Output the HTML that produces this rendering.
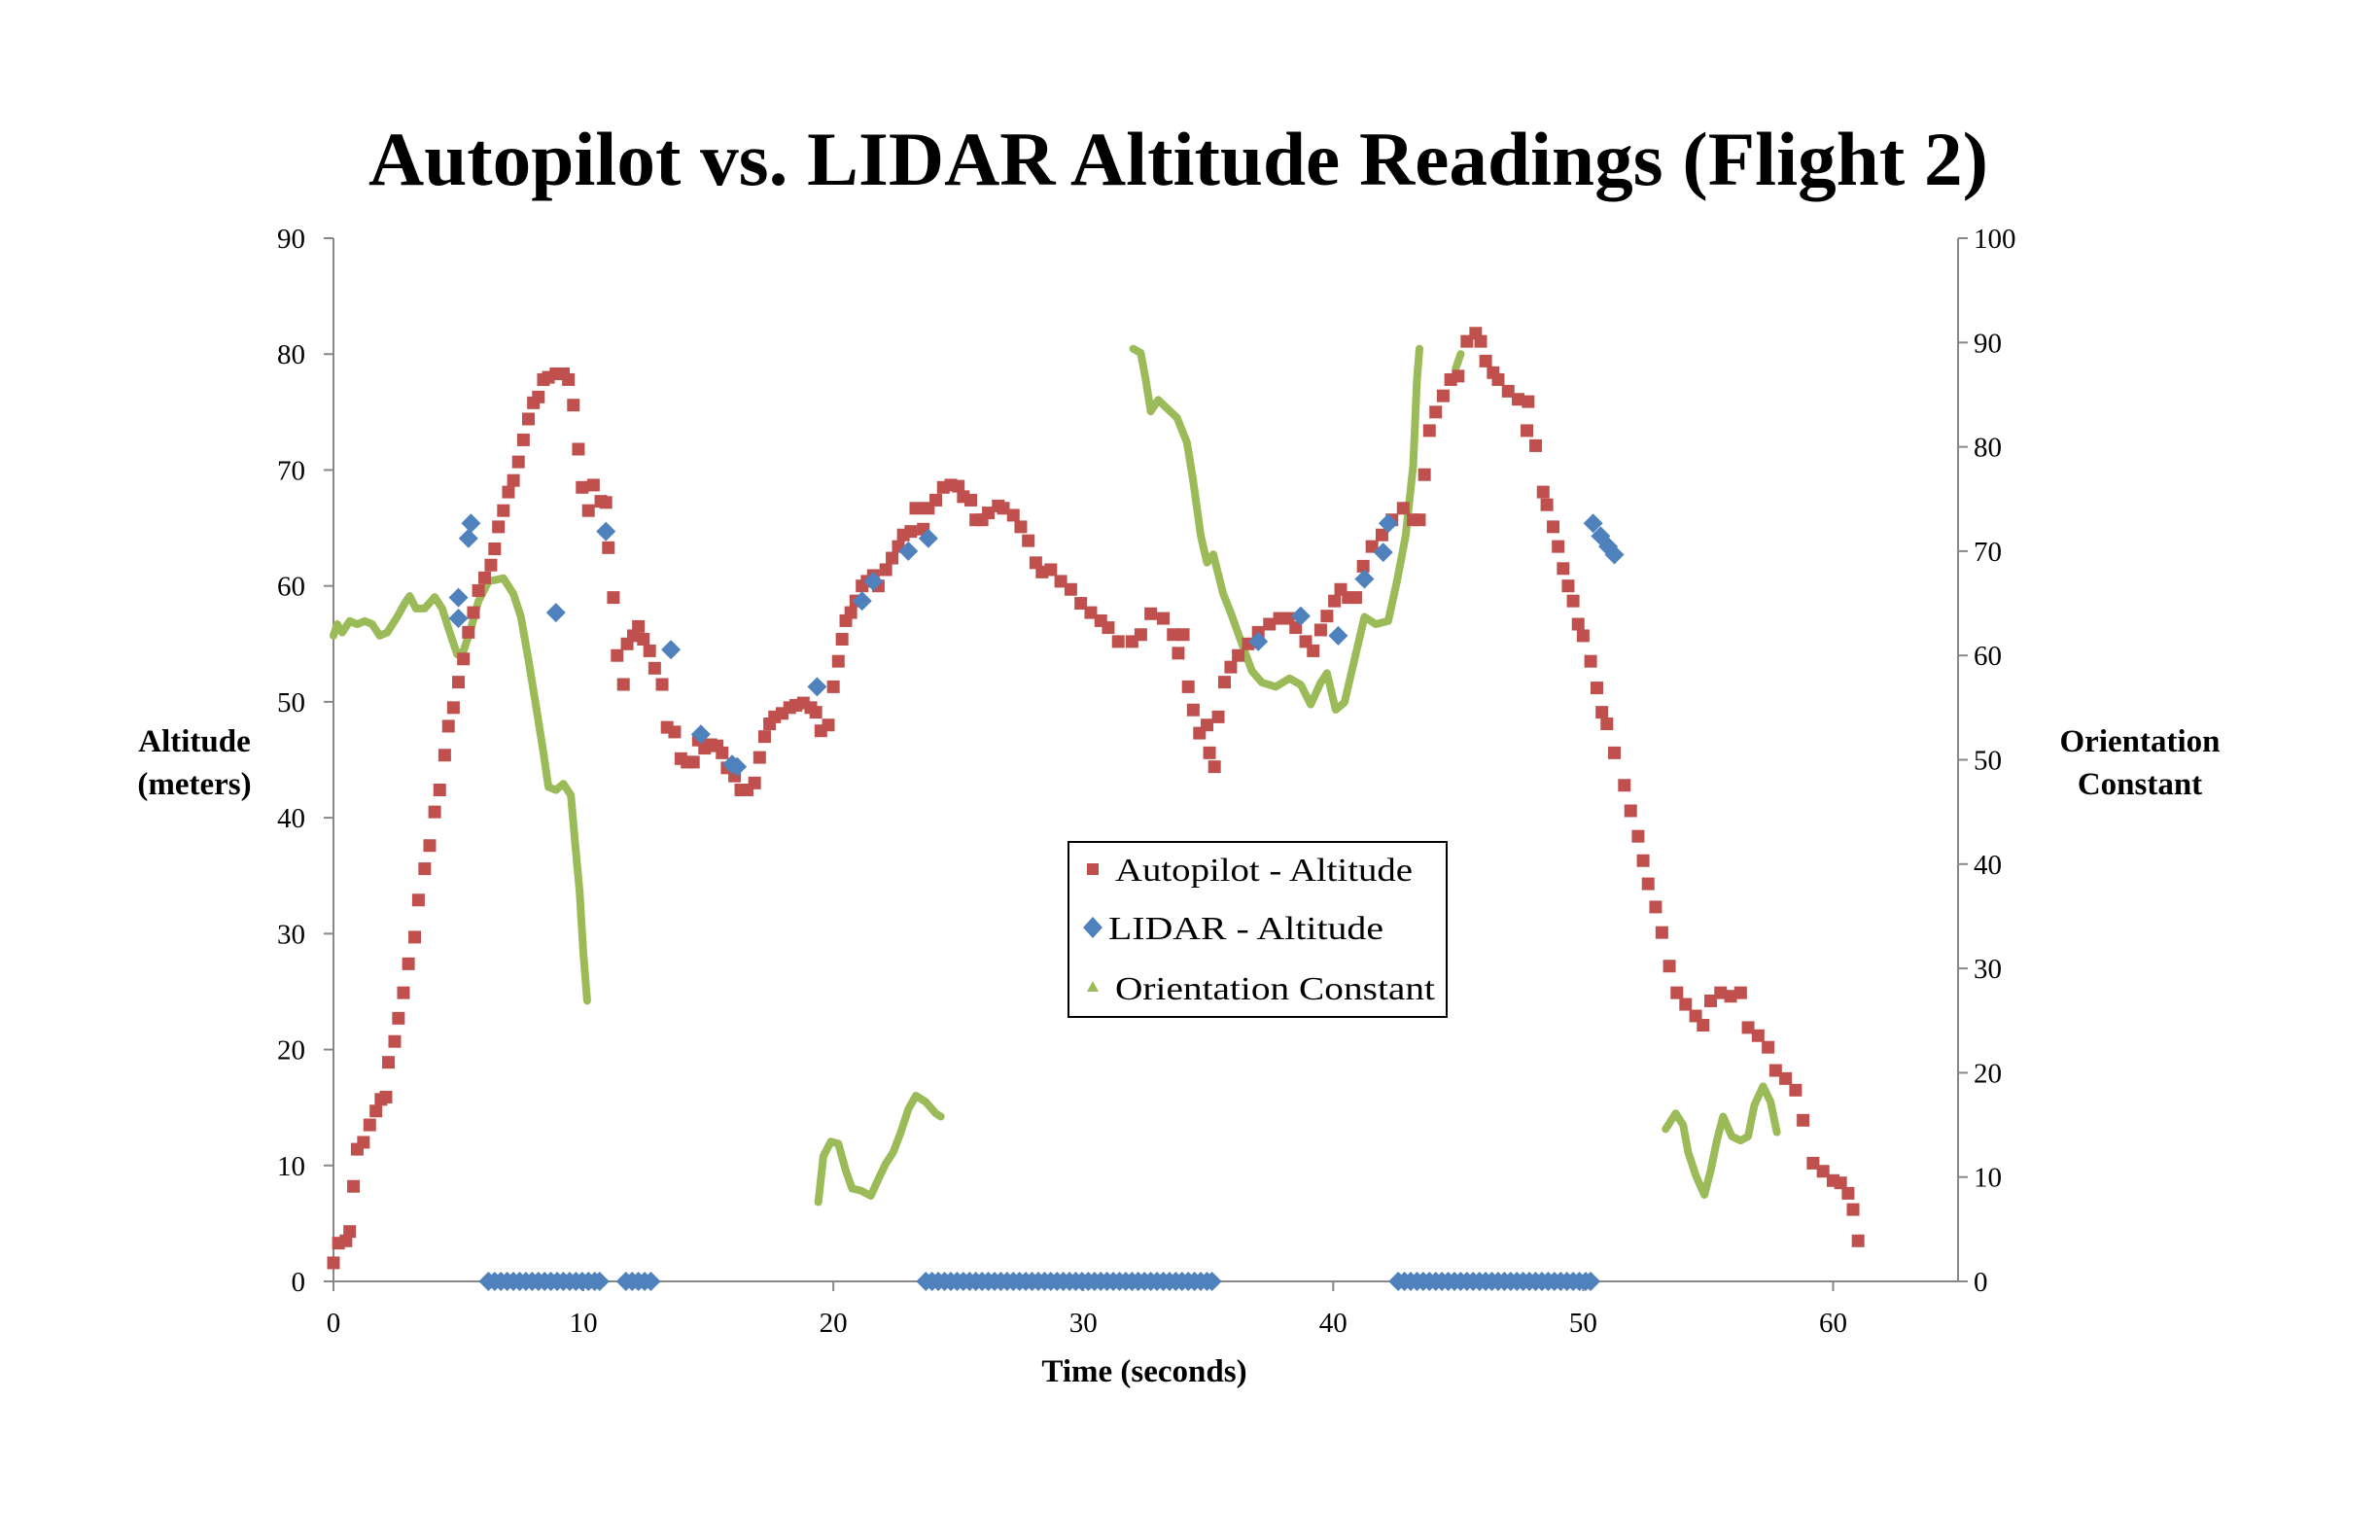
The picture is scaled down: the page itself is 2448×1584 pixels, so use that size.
<!DOCTYPE html>
<html><head><meta charset="utf-8"><style>
html,body{margin:0;padding:0;background:#fff;}
svg{display:block;font-family:"Liberation Serif",serif;}
</style></head><body>
<svg id="chart" width="2448" height="1584" viewBox="0 0 2448 1584" xmlns="http://www.w3.org/2000/svg">
<rect width="2448" height="1584" fill="#fff"/>
<text x="1212" y="190" text-anchor="middle" font-size="78" font-weight="bold" textLength="1666" lengthAdjust="spacingAndGlyphs">Autopilot vs. LIDAR Altitude Readings (Flight 2)</text>
<g id="axes"></g>
<g id="series-orient"></g>
<g id="series-auto"></g>
<g id="series-lidar"></g>
<text x="1177" y="1421" text-anchor="middle" font-size="33" font-weight="bold">Time (seconds)</text>
<text x="200" y="773" text-anchor="middle" font-size="33" font-weight="bold"><tspan x="200">Altitude</tspan><tspan x="200" dy="44">(meters)</tspan></text>
<text x="2201" y="773" text-anchor="middle" font-size="33" font-weight="bold"><tspan x="2201">Orientation</tspan><tspan x="2201" dy="44">Constant</tspan></text>
<g>
<rect x="1099" y="866" width="389" height="180" fill="#fff" stroke="#000" stroke-width="2"/>
<rect x="1118" y="888" width="12" height="12" fill="#C0504D"/>
<text x="1147" y="906" font-size="34" textLength="306" lengthAdjust="spacingAndGlyphs">Autopilot - Altitude</text>
<polygon points="1124,943 1134,954 1124,965 1114,954" fill="#4F81BD"/>
<text x="1140" y="966" font-size="34" textLength="283" lengthAdjust="spacingAndGlyphs">LIDAR - Altitude</text>
<polygon points="1124,1009 1130,1020 1118,1020" fill="#9BBB59"/>
<text x="1147" y="1028" font-size="34" textLength="329" lengthAdjust="spacingAndGlyphs">Orientation Constant</text>
</g>
</svg>
<script>
const xTicks=[0,10,20,30,40,50,60];
const yLeftTicks=[0,10,20,30,40,50,60,70,80,90];
const yRightTicks=[0,10,20,30,40,50,60,70,80,90,100];
const autoT=[0,0.2,0.5,0.65,0.8,0.95,1.2,1.45,1.7,1.9,2.1,2.2,2.45,2.6,2.8,3.0,3.25,3.4,3.65,3.85,4.05,4.25,4.45,4.6,4.8,5.0,5.2,5.4,5.6,5.8,6.05,6.3,6.45,6.6,6.8,7.0,7.2,7.4,7.6,7.8,8.0,8.2,8.4,8.6,8.9,9.2,9.4,9.6,9.8,9.95,10.2,10.4,10.7,10.9,11.0,11.2,11.35,11.6,11.75,12.0,12.2,12.4,12.65,12.85,13.15,13.35,13.65,13.9,14.15,14.4,14.6,14.85,15.1,15.35,15.55,15.75,16.05,16.3,16.55,16.85,17.05,17.25,17.45,17.65,17.95,18.25,18.5,18.8,19.1,19.3,19.5,19.8,20.0,20.2,20.35,20.5,20.7,20.9,21.15,21.35,21.6,21.8,22.1,22.35,22.6,22.8,23.1,23.3,23.6,23.8,24.1,24.4,24.7,25.0,25.2,25.5,25.7,25.95,26.2,26.6,26.8,27.2,27.5,27.8,28.1,28.35,28.7,29.1,29.5,29.9,30.3,30.7,31.0,31.4,31.95,32.3,32.7,33.2,33.6,34.0,33.8,34.2,34.4,34.65,34.95,35.05,35.25,35.4,35.65,35.9,36.2,36.6,37.0,37.45,37.85,38.2,38.5,38.9,39.2,39.5,39.75,40.05,40.3,40.6,40.9,41.2,41.55,41.95,42.35,42.8,43.2,43.45,43.65,43.85,44.1,44.4,44.7,45.0,45.35,45.7,45.9,46.1,46.4,46.6,47.0,47.4,47.8,47.75,48.1,48.4,48.55,48.8,49.0,49.2,49.4,49.6,49.8,50.0,50.3,50.55,50.75,50.95,51.25,51.65,51.9,52.2,52.4,52.6,52.9,53.15,53.45,53.75,54.1,54.5,54.8,55.1,55.5,55.9,56.3,56.6,57.0,57.4,57.7,58.1,58.5,58.8,59.2,59.6,60.0,60.3,60.6,60.8,61.0];
const autoV=[1.6,3.3,3.5,4.3,8.2,11.4,12,13.5,14.7,15.7,15.9,18.9,20.7,22.7,24.9,27.4,29.7,32.9,35.6,37.6,40.5,42.4,45.4,47.9,49.5,51.7,53.7,56,57.7,59.6,60.7,61.8,63.2,65.1,66.5,68.1,69.1,70.7,72.6,74.4,75.8,76.3,77.8,78.0,78.3,78.3,77.8,75.6,71.8,68.5,66.5,68.7,67.3,67.2,63.3,59,54,51.5,55,55.7,56.5,55.4,54.4,52.9,51.5,47.8,47.4,45.1,44.8,44.8,46.7,46,46.3,46.2,45.6,44.3,43.6,42.4,42.4,43,45.2,47,48.1,48.7,49,49.5,49.7,49.9,49.5,49.1,47.5,48,51.3,53.5,55.4,57,57.7,58.7,60,60.4,60.9,60,61.4,62.4,63.4,64.4,64.7,66.7,64.9,66.7,67.4,68.5,68.7,68.6,67.7,67.4,65.7,65.7,66.3,66.9,66.7,66.1,65.1,63.9,62,61.2,61.4,60.4,59.7,58.5,57.7,57,56.4,55.2,55.2,55.8,57.6,57.2,55.8,55.8,54.2,51.3,49.3,47.3,48,45.6,44.4,48.7,51.7,53,54,55,56,56.7,57.2,57.2,56.4,55.2,54.4,56.2,57.4,58.7,59.7,59,59,61.7,63.4,64.4,65.7,66.7,65.7,65.7,69.6,73.4,75,76.4,77.8,78.1,81.1,81.8,81.1,79.4,78.4,77.8,76.8,76.1,75.9,73.4,72.1,68.1,67,65.1,63.4,61.5,60,58.7,56.7,55.7,53.5,51.2,49.1,48.1,45.6,42.8,40.6,38.4,36.3,34.3,32.3,30.1,27.2,24.9,23.9,22.9,22.1,24.2,24.9,24.6,24.9,21.9,21.2,20.2,18.2,17.5,16.5,13.9,10.2,9.5,8.7,8.5,7.6,6.2,3.5];
const lidarT=[5.0,5.0,5.4,5.5,8.9,10.9,13.5,14.7,15.95,16.15,19.35,21.15,21.6,23.0,23.8,37.0,38.7,40.2,41.25,42.0,42.2,50.4,50.7,51.0,51.25,
6.2,6.45,6.7,6.95,7.2,7.45,7.7,7.95,8.2,8.45,8.7,8.95,9.2,9.45,9.7,9.95,10.2,10.45,10.65,11.7,11.95,12.2,12.45,12.7,
23.7,23.95,24.2,24.45,24.7,24.95,25.2,25.45,25.7,25.95,26.2,26.45,26.7,26.95,27.2,27.45,27.7,27.95,28.2,28.45,28.7,28.95,29.2,29.45,29.7,29.95,30.2,30.45,30.7,30.95,31.2,31.45,31.7,31.95,32.2,32.45,32.7,32.95,33.2,33.45,33.7,33.95,34.2,34.45,34.7,34.95,35.15,
42.6,42.85,43.1,43.35,43.6,43.85,44.1,44.35,44.6,44.85,45.1,45.35,45.6,45.85,46.1,46.35,46.6,46.85,47.1,47.35,47.6,47.85,48.1,48.35,48.6,48.85,49.1,49.35,49.6,49.85,50.1,50.3];
const lidarV=[57.2,59.0,64.1,65.4,57.7,64.7,54.5,47.2,44.6,44.4,51.3,58.7,60.4,63,64.1,55.2,57.4,55.7,60.6,62.9,65.4,65.4,64.3,63.4,62.7,
0,0,0,0,0,0,0,0,0,0,0,0,0,0,0,0,0,0,0,0,0,0,0,0,
0,0,0,0,0,0,0,0,0,0,0,0,0,0,0,0,0,0,0,0,0,0,0,0,0,0,0,0,0,0,0,0,0,0,0,0,0,0,0,0,0,0,0,0,0,0,0,0,
0,0,0,0,0,0,0,0,0,0,0,0,0,0,0,0,0,0,0,0,0,0,0,0,0,0,0,0,0,0,0,0];
const orientT=[0,0.15,0.35,0.65,0.95,1.25,1.55,1.85,2.15,2.55,2.85,3.05,3.3,3.65,4.05,4.35,4.6,4.95,5.2,5.5,5.8,6.2,6.8,7.2,7.5,7.8,8.1,8.4,8.6,8.9,9.2,9.5,9.65,9.85,10.0,10.15,null,
19.4,19.6,19.9,20.2,20.5,20.75,21.1,21.5,21.8,22.1,22.4,22.7,23.0,23.3,23.7,24.1,24.3,null,
32.0,32.3,32.5,32.7,33.0,33.3,33.75,34.15,34.4,34.7,34.95,35.2,35.6,35.9,36.35,36.75,37.15,37.7,38.25,38.7,39.1,39.5,39.75,40.1,40.45,40.85,41.25,41.7,42.2,42.55,42.9,43.2,43.35,43.45,null,
44.9,45.1,null,
53.3,53.7,54.0,54.2,54.5,54.85,55.1,55.35,55.6,55.95,56.3,56.6,56.85,57.2,57.5,57.75];
const orientV=[61.9,63,62.2,63.3,63,63.3,63,61.9,62.2,63.7,65,65.7,64.5,64.5,65.6,64.5,62.6,60.1,60.4,62.6,65.2,67.1,67.4,65.9,63.7,59.6,55.2,50.7,47.4,47.1,47.7,46.6,42.5,37.3,31.4,26.9,null,
7.6,12,13.4,13.2,10.6,8.9,8.7,8.2,9.8,11.3,12.4,14.3,16.5,17.8,17.2,16.1,15.8,null,
89.4,89.0,86.4,83.4,84.5,83.8,82.8,80.4,76.7,71.5,68.9,69.7,65.9,64.1,61.1,58.5,57.4,57,57.8,57.2,55.3,57.4,58.3,54.8,55.5,59.6,63.7,63,63.3,67.1,71.5,78.2,86.4,89.4,null,
87.5,88.9,null,
14.6,16.1,15,12.4,10.2,8.3,10.6,13.5,15.8,13.9,13.5,13.9,16.9,18.7,17.2,14.3];

const NS='http://www.w3.org/2000/svg';
const X0=343,X1=2014,YB=1318,YT=245;
const xs=t=>X0+t*(X1-X0)/65;
const yl=v=>YB-v*(YB-YT)/90;
const yr=v=>YB-v*(YB-YT)/100;
function mk(tag,attrs,parent){const e=document.createElementNS(NS,tag);for(const k in attrs)e.setAttribute(k,attrs[k]);parent.appendChild(e);return e;}
const axes=document.getElementById('axes');
let e;
e=mk('line',{x1:X0,y1:YT,x2:X0,y2:YB,stroke:'#888','stroke-width':2},axes);


e=mk('line',{x1:X1,y1:YT,x2:X1,y2:YB,stroke:'#888','stroke-width':2},axes);


e=mk('line',{x1:X0,y1:YB,x2:X1,y2:YB,stroke:'#888','stroke-width':2},axes);


xTicks.forEach(t=>{
  mk('line',{x1:xs(t),y1:YB,x2:xs(t),y2:YB+10,stroke:'#888','stroke-width':2},axes);
  const tx=mk('text',{x:xs(t),y:YB+52,'text-anchor':'middle','font-size':29},axes);
  tx.textContent=t;
  
  
});
yLeftTicks.forEach(v=>{
  mk('line',{x1:X0-10,y1:yl(v),x2:X0,y2:yl(v),stroke:'#888','stroke-width':2},axes);
  const tx=mk('text',{x:X0-29,y:yl(v)+10,'text-anchor':'end','font-size':29},axes);
  tx.textContent=v;
  
  
});
yRightTicks.forEach(v=>{
  mk('line',{x1:X1,y1:yr(v),x2:X1+10,y2:yr(v),stroke:'#888','stroke-width':2},axes);
  const tx=mk('text',{x:X1+16,y:yr(v)+10,'text-anchor':'start','font-size':29},axes);
  tx.textContent=v;
  
  
});
const og=document.getElementById('series-orient');
let segs=[],cur=[];
orientT.forEach((t,i)=>{if(t===null||orientV[i]===null){if(cur.length)segs.push(cur);cur=[];}else cur.push([xs(t),yr(orientV[i])]);});
if(cur.length)segs.push(cur);
segs.forEach(s=>{
  const p=mk('polyline',{points:s.map(q=>q.join(',')).join(' '),fill:'none',stroke:'#9BBB59','stroke-width':8,'stroke-linejoin':'round','stroke-linecap':'round'},og);
  
  
});
const ag=document.getElementById('series-auto');
autoT.forEach((t,i)=>{
  const r=mk('rect',{x:xs(t)-6.5,y:yl(autoV[i])-6.5,width:13,height:13,fill:'#C0504D'},ag);
  
  
});
const lg=document.getElementById('series-lidar');
lidarT.forEach((t,i)=>{
  const cx=xs(t),cy=yl(lidarV[i]);
  const p=mk('polygon',{points:`${cx},${cy-10} ${cx+10},${cy} ${cx},${cy+10} ${cx-10},${cy}`,fill:'#4F81BD'},lg);
  
  
});
</script>
</body></html>
